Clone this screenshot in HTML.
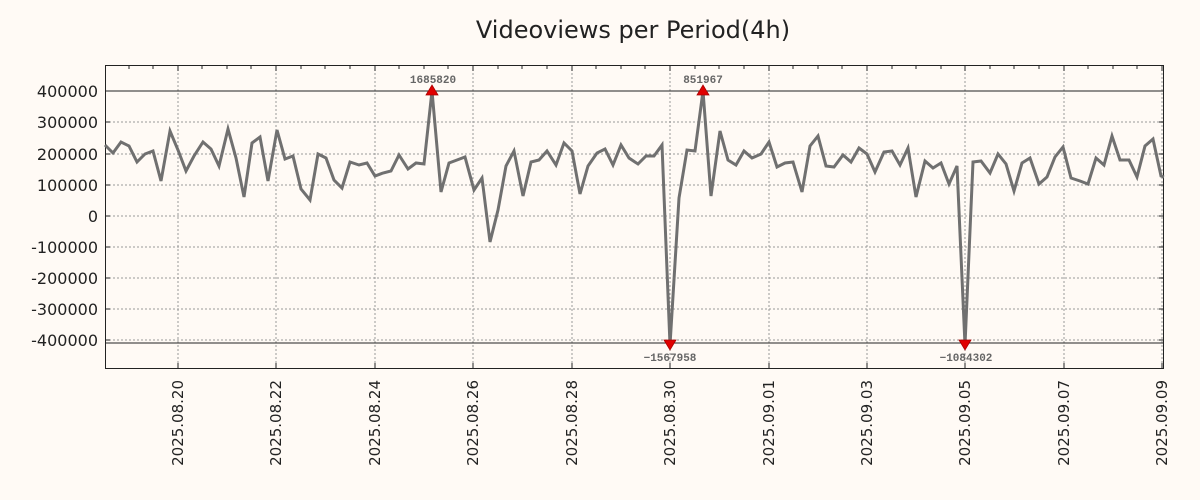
<!DOCTYPE html>
<html><head><style>
body{margin:0;background:#fffaf5;}
svg{display:block;font-family:"DejaVu Sans","Liberation Sans",sans-serif;}
</style></head><body>
<svg width="1200" height="500" viewBox="0 0 1200 500">
<rect width="1200" height="500" fill="#fffaf5"/>
<text x="633" y="38" font-size="24" text-anchor="middle" fill="#222">Videoviews per Period(4h)</text>
<g stroke="#999" stroke-dasharray="2,2" stroke-width="1">
<line x1="105" x2="1164" y1="91" y2="91"/><line x1="105" x2="1164" y1="122" y2="122"/><line x1="105" x2="1164" y1="154" y2="154"/><line x1="105" x2="1164" y1="185" y2="185"/><line x1="105" x2="1164" y1="216" y2="216"/><line x1="105" x2="1164" y1="247" y2="247"/><line x1="105" x2="1164" y1="278" y2="278"/><line x1="105" x2="1164" y1="309" y2="309"/><line x1="105" x2="1164" y1="340" y2="340"/>
<line y1="65" y2="369" x1="178" x2="178"/><line y1="65" y2="369" x1="276" x2="276"/><line y1="65" y2="369" x1="375" x2="375"/><line y1="65" y2="369" x1="473" x2="473"/><line y1="65" y2="369" x1="572" x2="572"/><line y1="65" y2="369" x1="670" x2="670"/><line y1="65" y2="369" x1="769" x2="769"/><line y1="65" y2="369" x1="867" x2="867"/><line y1="65" y2="369" x1="965" x2="965"/><line y1="65" y2="369" x1="1064" x2="1064"/><line y1="65" y2="369" x1="1162" x2="1162"/>
</g>
<line x1="105" x2="1164" y1="91" y2="91" stroke="#222" stroke-width="1"/>
<line x1="105" x2="1164" y1="343" y2="343" stroke="#222" stroke-width="1"/>
<rect x="105.5" y="65.5" width="1058" height="303" fill="none" stroke="#222" stroke-width="1"/>
<g stroke="#222" stroke-width="1">
<path d="M129,65v4M153,65v4M178,65v6M202,65v4M227,65v4M251,65v4M276,65v6M301,65v4M325,65v4M350,65v4M375,65v6M399,65v4M424,65v4M448,65v4M473,65v6M498,65v4M522,65v4M547,65v4M572,65v6M596,65v4M621,65v4M645,65v4M670,65v6M695,65v4M719,65v4M744,65v4M769,65v6M793,65v4M818,65v4M842,65v4M867,65v6M892,65v4M916,65v4M941,65v4M965,65v6M990,65v4M1014,65v4M1039,65v4M1064,65v6M1088,65v4M1113,65v4M1137,65v4M1162,65v6"/>
<path d="M178,369v-6M276,369v-6M375,369v-6M473,369v-6M572,369v-6M670,369v-6M769,369v-6M867,369v-6M965,369v-6M1064,369v-6M1162,369v-6"/>
<path d="M105,91h5M105,122h5M105,154h5M105,185h5M105,216h5M105,247h5M105,278h5M105,309h5M105,340h5M1164,91h-5M1164,122h-5M1164,154h-5M1164,185h-5M1164,216h-5M1164,247h-5M1164,278h-5M1164,309h-5M1164,340h-5"/>
</g>
<g font-size="16" fill="#222" text-anchor="end">
<text x="98" y="97">400000</text><text x="98" y="128">300000</text><text x="98" y="160">200000</text><text x="98" y="191">100000</text><text x="98" y="222">0</text><text x="98" y="253">-100000</text><text x="98" y="284">-200000</text><text x="98" y="315">-300000</text><text x="98" y="346">-400000</text>
</g>
<g font-size="15" fill="#222" text-anchor="end">
<text transform="translate(183,380) rotate(-90)">2025.08.20</text>
<text transform="translate(281,380) rotate(-90)">2025.08.22</text>
<text transform="translate(380,380) rotate(-90)">2025.08.24</text>
<text transform="translate(478,380) rotate(-90)">2025.08.26</text>
<text transform="translate(577,380) rotate(-90)">2025.08.28</text>
<text transform="translate(675,380) rotate(-90)">2025.08.30</text>
<text transform="translate(774,380) rotate(-90)">2025.09.01</text>
<text transform="translate(872,380) rotate(-90)">2025.09.03</text>
<text transform="translate(970,380) rotate(-90)">2025.09.05</text>
<text transform="translate(1069,380) rotate(-90)">2025.09.07</text>
<text transform="translate(1167,380) rotate(-90)">2025.09.09</text>
</g>
<polyline fill="none" stroke="#707070" stroke-width="3" stroke-linejoin="miter" points="105,145 113,153 121,142 129,146 137,162 145,154 153,151 161,181 170,131 178,150 186,171 194,156 203,142 211,149 219,166 228,129 236,158 244,197 252,143 260,137 268,181 277,130 285,159 293,156 301,189 310,200 318,154 326,158 334,180 342,188 350,162 359,165 367,163 375,176 383,173 391,171 399,155 408,169 416,163 424,164 432,91 441,192 449,163 457,160 465,157 474,190 482,178 490,242 498,210 506,166 514,151 523,196 531,162 539,160 547,151 556,165 564,143 572,151 580,194 588,166 597,153 605,149 613,165 621,145 629,158 638,164 646,156 654,156 662,145 670,345 679,198 687,150 695,151 703,91 711,196 720,131 728,160 736,165 744,151 752,158 761,154 769,142 777,167 785,163 793,162 802,192 810,146 818,136 826,166 834,167 843,155 851,162 859,148 867,154 875,172 884,152 892,151 900,165 908,148 916,197 925,161 933,168 941,163 949,184 957,166 965,345 973,162 981,161 990,173 998,154 1006,164 1014,191 1022,163 1030,158 1039,184 1047,177 1055,157 1063,147 1071,178 1080,181 1088,184 1096,158 1104,165 1112,136 1120,160 1129,160 1137,177 1145,146 1153,139 1161,176 1164,177"/>
<g fill="#e00000" stroke="#a00" stroke-width="0.8">
<polygon points="426,95 438,95 432,85"/>
<polygon points="697,95 709,95 703,85"/>
<polygon points="664,340 676,340 670,350"/>
<polygon points="959,340 971,340 965,350"/>
</g>
<g font-family="'Liberation Mono',monospace" font-weight="bold" font-size="11" fill="#666" text-anchor="middle">
<text x="433" y="83">1685820</text>
<text x="703" y="83">851967</text>
<text x="670" y="361">−1567958</text>
<text x="966" y="361">−1084302</text>
</g>
</svg>
</body></html>
